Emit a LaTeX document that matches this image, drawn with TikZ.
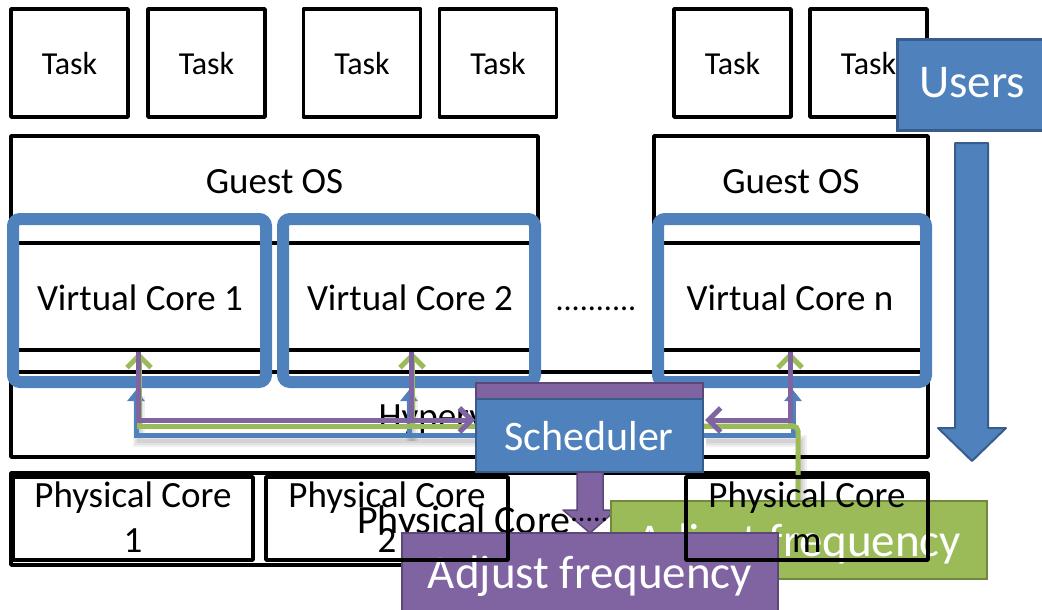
\documentclass[tikz,border=0pt]{standalone}
\usepackage{fontspec}
\setmainfont{Carlito}
\usetikzlibrary{arrows.meta}
\definecolor{cblue}{HTML}{4F81BD}
\definecolor{cblued}{HTML}{385D8A}
\definecolor{cpurp}{HTML}{8064A2}
\definecolor{cpurpd}{HTML}{5C4776}
\definecolor{cgreen}{HTML}{9BBB59}
\definecolor{cgreend}{HTML}{71893F}
\begin{document}
\begin{tikzpicture}[x=1pt,y=-1pt,
  blk/.style={draw=black,line width=3.5pt,line join=round,inner sep=0pt},
  taskbox/.style={blk,fill=white,minimum width=117pt,minimum height=108pt},
  openbox/.style={blk,minimum height=#1},
  vcfill/.style={fill=white,inner sep=0pt,minimum height=163pt},
  vcbord/.style={draw=cblue,line width=12pt,rounded corners=7pt,inner sep=0pt,minimum height=163pt},
  f32/.style={font=\fontsize{32}{36}\selectfont,inner sep=0pt,anchor=base},
  f37/.style={font=\fontsize{37}{42}\selectfont,inner sep=0pt,anchor=base},
  f40/.style={font=\fontsize{40}{44}\selectfont,inner sep=0pt,anchor=base west},
  wtxt/.style={font=\fontsize{#1}{#1}\selectfont,text=white,inner sep=0pt,anchor=base},
  con/.style={line width=5pt},
  bcon/.style={con,draw=cblue},
  gcon/.style={con,draw=cgreen},
  pcon/.style={con,draw=cpurp},
  barb/.style={-{Straight Barb[length=12pt,width=24pt]}},
  btip/.style={-{Triangle[length=11pt,width=17pt]}},
  shd/.style={draw=black,opacity=0.06,line width=#1,transform canvas={shift={(3pt,-6pt)}}},
  bluebox/.style={fill=cblue,draw=cblued,line width=2.5pt,inner sep=0pt},
  purpbox/.style={fill=cpurp,draw=cpurpd,line width=2.5pt,inner sep=0pt},
  greenbox/.style={fill=cgreen,draw=cgreend,line width=2.5pt,inner sep=0pt}
]
\useasboundingbox (0,0) rectangle (1042,610);
\clip (0,0) rectangle (1042,610);
\fill[white] (0,0) rectangle (1042,610);

% Tasks
\node[taskbox] (t1) at (69.5,63) {};
\node[taskbox] (t2) at (206.5,63) {};
\node[taskbox] (t3) at (362,63) {};
\node[taskbox] (t4) at (498,63) {};
\node[taskbox] (t5) at (732.5,63) {};
\node[taskbox] (t6) at (868.5,63) {};
\foreach \n/\xx in {1/69.5,2/206.5,3/362,4/498,5/732.5,6/868.5}
  \node[f32] (t\n l) at (\xx,75) {Task};

% Guest OS
\node[openbox=107pt,fill=white,minimum width=527pt] (g1) at (274.5,189.5) {};
\node[openbox=107pt,fill=white,minimum width=274pt] (g2) at (791,189.5) {};
\node[f37] (g1l) at (274.5,193) {Guest OS};
\node[f37] (g2l) at (791,193) {Guest OS};

% Virtual core fills
\node[vcfill,minimum width=253pt] (vf1) at (139.5,300.5) {};
\node[vcfill,minimum width=252pt] (vf2) at (409,300.5) {};
\node[vcfill,minimum width=268pt] (vfn) at (792,300.5) {};
\coordinate (ya) at (0,243);
\coordinate (yb) at (0,350);
\foreach \v in {vf1,vf2,vfn}{
  \draw[line width=3.5pt] (\v.west |- ya) -- (\v.east |- ya);
  \draw[line width=3.5pt] (\v.west |- yb) -- (\v.east |- yb);
}
% Hypervisor
\node[openbox=85pt,minimum width=917pt] (hyp) at (469.5,414.5) {};
\node[f37] (hypl) at (460,428) {Hypervisor};

\node[f37] (vc1l) at (140,310) {Virtual Core 1};
\node[f37] (vc2l) at (410,310) {Virtual Core 2};
\node[f37] (vcnl) at (790,310) {Virtual Core n};
\node[f32] (dots) at (596,310) {..........};

% Virtual core borders
\node[vcbord,minimum width=253pt] (vc1) at (139.5,300.5) {};
\node[vcbord,minimum width=252pt] (vc2) at (409,300.5) {};
\node[vcbord,minimum width=268pt] (vcn) at (792,300.5) {};

% Physical container
\node[openbox=92pt,minimum width=917pt] (phys) at (469.5,519) {};

% Users and big arrow
\node[bluebox,line width=3pt,anchor=north west,minimum width=170pt,minimum height=91pt] (users) at (896,38) {};
\node[wtxt=47] (usersl) at (972,98) {Users};
\draw[fill=cblue,draw=cblued,line width=2pt,line join=round]
  (955,143) -- (988,143) -- (988,428) -- (1006,428) -- (972,461) -- (938,428) -- (955,428) -- cycle;

% connectors
\coordinate (pv1) at (138,352);
\coordinate (pv2) at (411,352);
\coordinate (pvn) at (790,352);
\coordinate (spl) at (475,420);
\coordinate (spr) at (705,420);
\coordinate (gv1) at (139,352);
\coordinate (gv2) at (412,352);
\coordinate (gvn) at (790,352);
\coordinate (sgl) at (476,426);
\coordinate (sgr) at (703,426);
\coordinate (gtop) at (798,503);
\coordinate (bv1) at (136,390);
\coordinate (bv2) at (409,390);
\coordinate (bvn) at (793,390);
\coordinate (sbl) at (476,435);
\coordinate (sbr) at (703,435);

\foreach \w in {4pt,8pt,12pt}{
  \draw[shd=\w] (sbl) -| (bv1);
  \draw[shd=\w] (sbr) -| (gtop);
  \draw[shd=\w] (sbl -| bv2) -- (bv2);
}

\draw[bcon,btip] (sbl) -| (bv1);
\draw[bcon,btip] (sbl -| bv2) -- (bv2);
\draw[bcon,btip] (sbr) -| (bvn);

\draw[gcon,barb] (sgl) -| (gv1);
\draw[gcon,barb] (sgl -| gv2) -- (gv2);
\draw[gcon,barb] (sgr) -| (gvn);
\draw[gcon,rounded corners=5pt] (sgr) -| (gtop);

\draw[pcon,barb] (pv1) |- (spl);
\draw[pcon] (pv2) -- (pv2 |- spl);
\draw[pcon,barb] (pvn) |- (spr);

% Scheduler
\node[purpbox,minimum width=227pt,minimum height=89pt] (schh) at (589.5,427.5) {};
\node[bluebox,minimum width=227pt,minimum height=73pt] (sch) at (589.5,435.5) {};
\node[wtxt=42] (schl) at (589,450) {Scheduler};

% purple down arrow
\draw[fill=cpurp,draw=cpurpd,line width=1.5pt,line join=round]
  (577,472) -- (603,472) -- (603,510) -- (616,510) -- (590,533) -- (563,510) -- (577,510) -- cycle;

% middle physical core text
\node[f40] (pcmid) at (357,533) {Physical Core\raisebox{12pt}{\fontsize{30}{30}\selectfont......}};

% Adjust frequency boxes
\node[greenbox,minimum width=376pt,minimum height=78pt] (gadj) at (799,540) {};
\node[wtxt=47] (gadjl) at (799,556) {Adjust frequency};
\node[purpbox,minimum width=376pt,minimum height=92pt] (padj) at (590,579) {};
\node[wtxt=47] (padjl) at (590,588) {Adjust frequency};

% Physical cores
\node[openbox=83pt,minimum width=240pt] (pc1) at (133,518.5) {};
\node[openbox=83pt,minimum width=242pt] (pc2) at (387,518.5) {};
\node[openbox=83pt,minimum width=242pt] (pcm) at (807,518.5) {};
\node[f37] (pc1a) at (133,507) {Physical Core};
\node[f37] (pc1b) at (133,552) {1};
\node[f37] (pc2a) at (387,507) {Physical Core};
\node[f37] (pc2b) at (387,552) {2};
\node[f37] (pcma) at (807,507) {Physical Core};
\node[f37] (pcmb) at (807,552) {m};
\end{tikzpicture}
\end{document}
